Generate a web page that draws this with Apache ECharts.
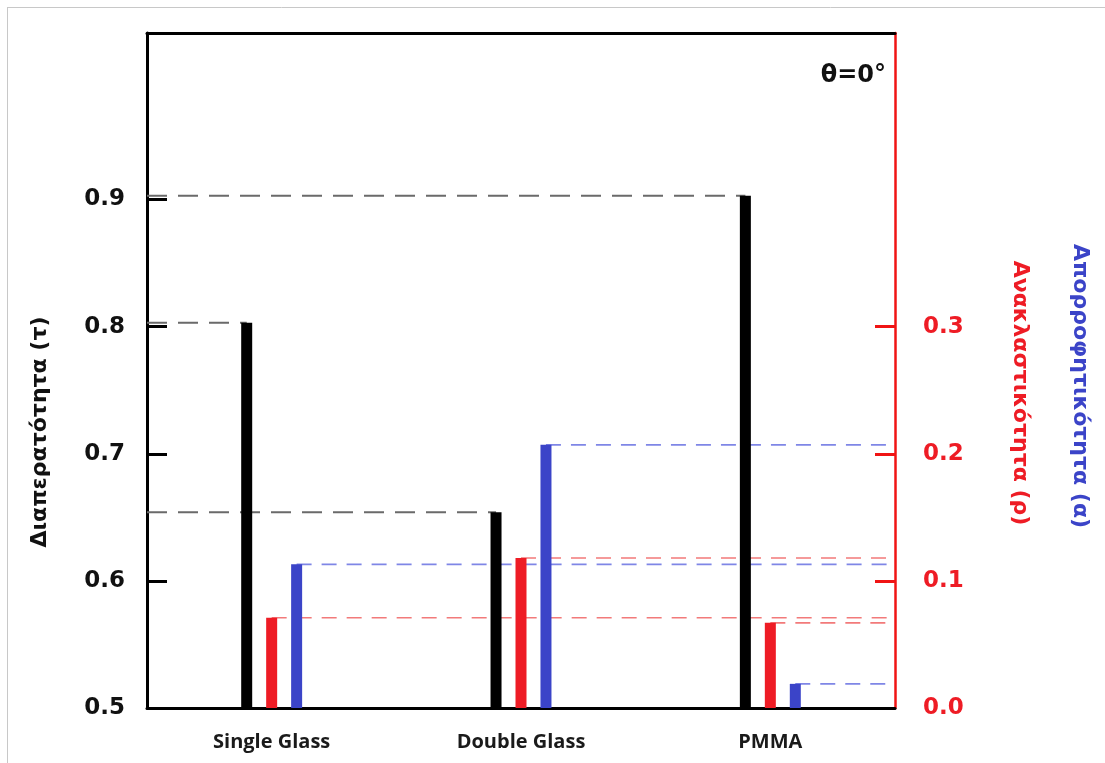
<!DOCTYPE html>
<html>
<head>
<meta charset="utf-8">
<script src="https://cdn.jsdelivr.net/npm/echarts@6/dist/echarts.min.js"></script>
<style>html,body{margin:0;padding:0;background:#fff;}#c{width:1105px;height:763px;}</style>
</head>
<body>
<div id="c"></div>
<script>
var categories = ['Single Glass', 'Double Glass', 'PMMA'];
var transmittance = [0.803, 0.654, 0.903];   // τ, left axis
var reflectance = [0.071, 0.118, 0.067];     // ρ, right axis
var absorptance = [0.113, 0.207, 0.019];     // α, right axis
var leftTicks = [0.5, 0.6, 0.7, 0.8, 0.9];
var rightTicks = [0.0, 0.1, 0.2, 0.3];

var RED = '#ee1c25', BLUE = '#3b44c8', AXRED = '#f01414';
var barOffset = 0.1; // side-bar offset within a category, in category units
var FONT = 'DejaVu Sans';

var chart = echarts.init(document.getElementById('c'), null, {renderer: 'canvas'});

var series = [
  {name: 'τ', type: 'bar', xAxisIndex: 0, yAxisIndex: 0, data: transmittance, barWidth: 11, barGap: '127%',
   itemStyle: {color: '#000'}, z: 5},
  {name: 'ρ', type: 'bar', xAxisIndex: 0, yAxisIndex: 1, data: reflectance, barWidth: 11, barGap: '127%',
   itemStyle: {color: RED}, z: 5},
  {name: 'α', type: 'bar', xAxisIndex: 0, yAxisIndex: 1, data: absorptance, barWidth: 11, barGap: '127%',
   itemStyle: {color: BLUE}, z: 5}
];

function dashed(data, yIdx, color, width, dash) {
  series.push({type: 'line', xAxisIndex: 1, yAxisIndex: yIdx, data: data, symbol: 'none', silent: true, z: 1,
    lineStyle: {color: color, width: width, type: dash}});
}
transmittance.forEach(function (v, i) {
  dashed([[0, v], [i + 0.5 - barOffset, v]], 0, '#6a6a6a', 2, [20, 11]);
});
reflectance.forEach(function (v, i) {
  dashed([[i + 0.5, v], [categories.length, v]], 1, '#f27a7a', 1.6, [15, 10]);
});
absorptance.forEach(function (v, i) {
  dashed([[i + 0.5 + barOffset, v], [categories.length, v]], 1, '#7f86e6', 1.6, [15, 10]);
});

chart.setOption({
  animation: false,
  backgroundColor: '#fff',
  grid: {left: 147, top: 33, right: 210, bottom: 55, containLabel: false},
  xAxis: [
    {type: 'category', data: categories, position: 'bottom',
     axisLine: {show: true, lineStyle: {color: '#000', width: 3}},
     axisTick: {show: false},
     axisLabel: {color: '#1a1a1a', fontFamily: 'Open Sans', fontWeight: 'bold', fontSize: 20, margin: 24},
     splitLine: {show: false}},
    {type: 'value', min: 0, max: categories.length, position: 'top',
     axisLine: {show: true, onZero: false, lineStyle: {color: '#000', width: 3}},
     axisTick: {show: false}, axisLabel: {show: false}, splitLine: {show: false}}
  ],
  yAxis: [
    {type: 'value', min: 0.5, max: 1.031, interval: 0.1, position: 'left',
     axisLine: {show: true, onZero: false, lineStyle: {color: '#000', width: 3}},
     axisTick: {show: true, inside: true, length: 20, lineStyle: {color: '#000', width: 3}, customValues: leftTicks.slice(1)},
     axisLabel: {customValues: leftTicks, formatter: function (v) { return v.toFixed(1); },
       color: '#111', fontFamily: FONT, fontWeight: 'bold', fontSize: 23, margin: 22},
     splitLine: {show: false}},
    {type: 'value', min: 0, max: 0.531, interval: 0.1, position: 'right',
     axisLine: {show: true, onZero: false, lineStyle: {color: AXRED, width: 2.5}},
     axisTick: {show: true, inside: true, length: 20, lineStyle: {color: AXRED, width: 3}, customValues: rightTicks.slice(1)},
     axisLabel: {customValues: rightTicks, formatter: function (v) { return v.toFixed(1); },
       color: RED, fontFamily: FONT, fontWeight: 'bold', fontSize: 23, margin: 28},
     splitLine: {show: false}}
  ],
  graphic: [
    {type: 'line', shape: {x1: 7, y1: 7.5, x2: 1105, y2: 7.5}, style: {stroke: '#c8c8c8', lineWidth: 1}},
    {type: 'line', shape: {x1: 7.5, y1: 7, x2: 7.5, y2: 763}, style: {stroke: '#c8c8c8', lineWidth: 1}},
    {type: 'text', x: 40, y: 432, rotation: Math.PI / 2,
     style: {text: 'Διαπερατότητα (τ)', fill: '#111', font: 'bold 22px "DejaVu Sans"', textAlign: 'center', textVerticalAlign: 'middle'}},
    {type: 'text', x: 1020, y: 393, rotation: -Math.PI / 2,
     style: {text: 'Ανακλαστικότητα (ρ)', fill: RED, font: 'bold 22px "DejaVu Sans"', textAlign: 'center', textVerticalAlign: 'middle'}},
    {type: 'text', x: 1080, y: 386, rotation: -Math.PI / 2,
     style: {text: 'Απορροφητικότητα (α)', fill: BLUE, font: 'bold 22px "DejaVu Sans"', textAlign: 'center', textVerticalAlign: 'middle'}},
    {type: 'text', x: 886, y: 76,
     style: {text: 'θ=0°', fill: '#111', font: 'bold 24px "DejaVu Sans"', textAlign: 'right', textVerticalAlign: 'middle'}}
  ],
  series: series
});
</script>
</body>
</html>
